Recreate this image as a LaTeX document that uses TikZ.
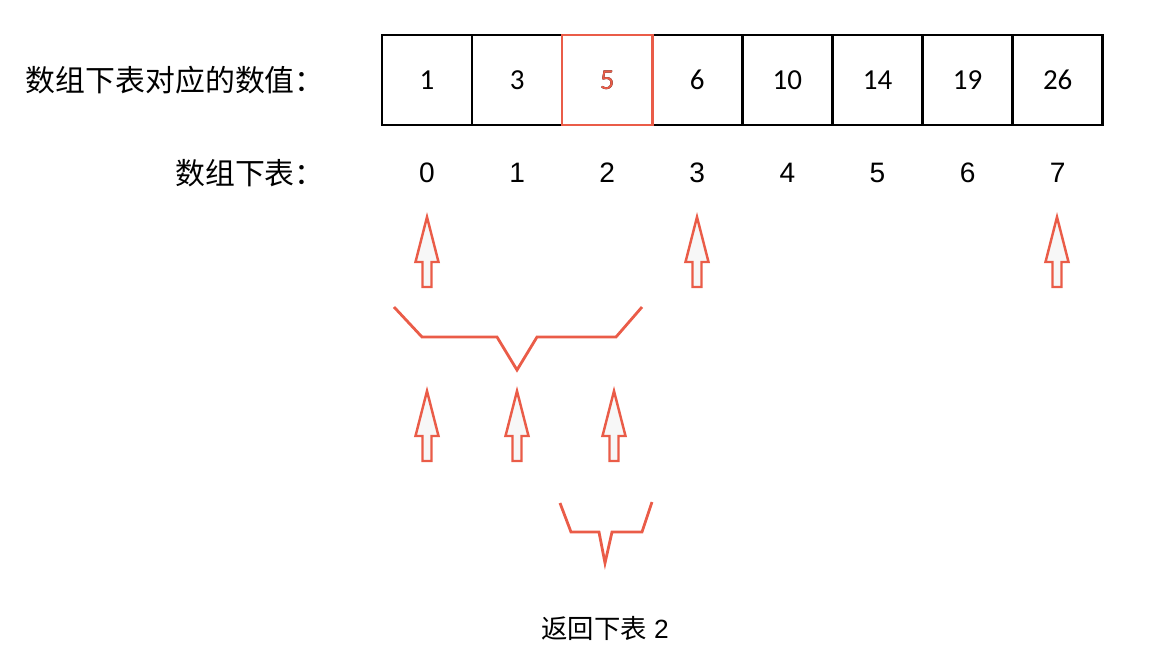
\documentclass[tikz,border=0pt]{standalone}
\usepackage{fontspec}
\setmainfont{Liberation Sans}
\newfontfamily\cjk{Noto Sans CJK SC}
\newfontfamily\cellfont{Carlito}
\usepackage{tikz}
\usetikzlibrary{positioning}
\definecolor{hlred}{RGB}{234, 92, 72}

\begin{document}
\begin{tikzpicture}[x=0.02cm, y=-0.02cm,
        cell/.style={draw, line width=1.5pt, minimum width=1.802cm, minimum height=1.8cm, inner sep=0pt, outer sep=0pt, font=\cellfont\fontsize{16.5}{19}\selectfont},
        idx/.style={inner sep=0pt, font=\fontsize{16}{19}\selectfont},
        lbl/.style={inner sep=0pt, anchor=east, font=\cjk\fontsize{17}{20}\selectfont},
        uparrow/.style={draw=hlred, line width=1.4pt, fill=gray!6, line join=miter},
        brace/.style={draw=hlred, line width=1.6pt}]
        \useasboundingbox (0,0) rectangle (1157,653);

        % Array cells and indices
        \foreach \v [count=\i from 0] in {1,3,5,6,10,14,19,26} {
            \node[cell] (c\i) at (427+90.1*\i, 80) {\v};
            \node[idx] (i\i) at (427+90.1*\i, 173) {\i};
        }
        % Highlighted cell
        \node[cell, draw=hlred, text=hlred] (hit) at (c2) {5};

        % Labels
        \node[lbl] (vallbl) at (325, 80) {数组下表对应的数值：};
        \node[lbl] (idxlbl) at (325, 173) {数组下表：};

        % Arrows (first round and second round)
        \foreach \x/\t in {427/217, 697/217, 1057/217, 427/391, 517/391, 614/391} {
            \draw[uparrow] (\x,\t) -- (\x+11.5,\t+45) -- (\x+4.5,\t+45) -- (\x+4.5,\t+70)
                -- (\x-4.5,\t+70) -- (\x-4.5,\t+45) -- (\x-11.5,\t+45) -- cycle;
        }

        % Braces
        \draw[brace] (394,307) -- (422,337) -- (497,337) -- (517,370) -- (537,337) -- (616,337) -- (642,307);
        \draw[brace] (560,503) -- (571,532) -- (599,532) -- (605,563) -- (612,532) -- (642,532) -- (652,502);

        % Result
        \node[inner sep=0pt, font=\fontsize{15}{18}\selectfont] (res) at (605, 628) {{\cjk 返回下表} 2};
\end{tikzpicture}
\end{document}
